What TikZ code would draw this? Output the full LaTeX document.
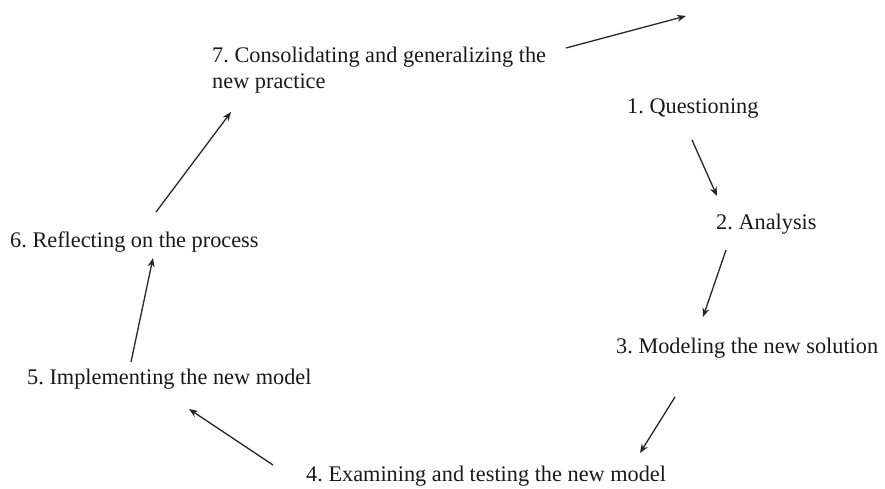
\documentclass[tikz,border=0pt]{standalone}
\usepackage{fontspec}
\setmainfont{Liberation Serif}
\usetikzlibrary{arrows.meta}
\frenchspacing
\begin{document}
\begin{tikzpicture}[x=1pt,y=-1pt,
  step label/.style={anchor=base west,inner sep=0pt,font=\fontsize{22.3}{26}\selectfont,text=black!90,align=left},
  flow/.style={draw=black!85,line width=1.3pt,-{Stealth[length=9pt,width=7pt]}}]
\useasboundingbox (0,0) rectangle (885,489);
% the base of a two-line label is its last line
\node[step label] (s7) at (212,89) {7. Consolidating and generalizing the\\new practice};
\node[step label] (s1) at (627,114) {1. Questioning};
\node[step label] (s2) at (716,229) {2. Analysis};
\node[step label] (s3) at (616,353) {3. Modeling the new solution};
\node[step label] (s4) at (306,481) {4. Examining and testing the new model};
\node[step label] (s5) at (27,384) {5. Implementing the new model};
\node[step label] (s6) at (10,247) {6. Reflecting on the process};
% connector end points
\coordinate (a7) at (566,48);   \coordinate (next) at (686,16);
\coordinate (a1) at (692,140);  \coordinate (b2) at (717,196);
\coordinate (a2) at (726,250);  \coordinate (b3) at (703,317);
\coordinate (a3) at (675,397);  \coordinate (b4) at (640,453);
\coordinate (a4) at (273,465);  \coordinate (b5) at (189,409);
\coordinate (a5) at (131,362);  \coordinate (b6) at (153,258);
\coordinate (a6) at (156,212);  \coordinate (b7) at (231,112);
\draw[flow] (a7) -- (next);
\draw[flow] (a1) -- (b2);
\draw[flow] (a2) -- (b3);
\draw[flow] (a3) -- (b4);
\draw[flow] (a4) -- (b5);
\draw[flow] (a5) -- (b6);
\draw[flow] (a6) -- (b7);
\end{tikzpicture}
\end{document}
